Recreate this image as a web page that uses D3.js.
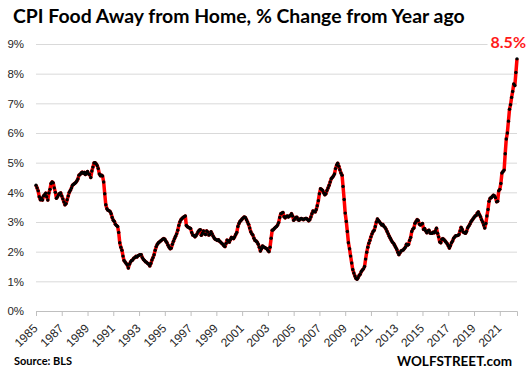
<!DOCTYPE html>
<html>
<head>
<meta charset="utf-8">
<script src="https://cdn.jsdelivr.net/npm/d3@7"></script>
<style>
  body { margin: 0; background: #fff; }
  svg { font-family: Lato, "Liberation Sans", sans-serif; display: block; }
</style>
</head>
<body>
<div id="chart"></div>
<script>
// monthly y/y % change, May 1985 .. Sep 2022
const firstMonth = new Date(1985, 4, 1)
const cpiFoodAway = [
  4.24, 4.15, 4.05, 3.85, 3.75, 3.80, 3.74, 3.88,                     // 1985 (May-Dec)
  3.92, 3.97, 3.85, 3.74, 3.98, 4.10, 4.30, 4.35, 4.32, 4.15, 4.00, 3.80, // 1986
  3.85, 3.92, 3.96, 3.98, 3.88, 3.78, 3.68, 3.58, 3.62, 3.75, 3.88, 4.00, // 1987
  4.07, 4.15, 4.24, 4.27, 4.30, 4.33, 4.38, 4.45, 4.58, 4.60, 4.65, 4.68, // 1988
  4.64, 4.67, 4.60, 4.66, 4.70, 4.62, 4.60, 4.50, 4.72, 4.85, 4.99, 5.00, // 1989
  4.96, 4.90, 4.80, 4.62, 4.56, 4.58, 4.55, 4.35, 3.95, 3.58, 3.45, 3.40, // 1990
  3.38, 3.35, 3.28, 3.15, 3.06, 3.02, 2.92, 2.88, 2.85, 2.65, 2.30, 2.15, // 1991
  2.05, 1.85, 1.70, 1.65, 1.60, 1.55, 1.45, 1.58, 1.65, 1.70, 1.72, 1.78, // 1992
  1.80, 1.84, 1.82, 1.86, 1.88, 1.90, 1.90, 1.80, 1.74, 1.70, 1.66, 1.64, // 1993
  1.60, 1.58, 1.52, 1.60, 1.72, 1.80, 1.90, 2.05, 2.17, 2.25, 2.30, 2.33, // 1994
  2.36, 2.39, 2.42, 2.44, 2.42, 2.35, 2.30, 2.22, 2.15, 2.10, 2.12, 2.25, // 1995
  2.35, 2.44, 2.52, 2.60, 2.72, 2.88, 3.00, 3.08, 3.12, 3.15, 3.18, 3.20, // 1996
  2.88, 2.84, 2.82, 2.80, 2.78, 2.65, 2.56, 2.55, 2.50, 2.54, 2.60, 2.67, // 1997
  2.72, 2.74, 2.55, 2.62, 2.70, 2.60, 2.58, 2.70, 2.66, 2.56, 2.58, 2.67, // 1998
  2.60, 2.52, 2.46, 2.42, 2.40, 2.38, 2.40, 2.35, 2.32, 2.28, 2.25, 2.20, // 1999
  2.17, 2.28, 2.39, 2.36, 2.32, 2.40, 2.48, 2.46, 2.44, 2.50, 2.58, 2.65, // 2000
  2.85, 2.95, 3.02, 3.06, 3.10, 3.14, 3.17, 3.15, 3.08, 3.00, 2.92, 2.80, // 2001
  2.67, 2.60, 2.56, 2.45, 2.38, 2.36, 2.32, 2.25, 2.15, 2.02, 2.10, 2.19, // 2002
  2.16, 2.14, 2.12, 2.10, 2.05, 2.00, 2.15, 2.45, 2.72, 2.74, 2.78, 2.82, // 2003
  2.85, 2.90, 2.98, 3.15, 3.28, 3.30, 3.32, 3.18, 3.14, 3.18, 3.20, 3.17, // 2004
  3.20, 3.22, 3.28, 3.20, 3.06, 3.10, 3.15, 3.16, 3.08, 3.06, 3.10, 3.12, // 2005
  3.10, 3.08, 3.10, 3.12, 3.12, 3.08, 3.04, 3.08, 3.17, 3.28, 3.37, 3.35, // 2006
  3.34, 3.42, 3.55, 3.72, 3.95, 4.12, 4.10, 4.06, 3.98, 3.92, 3.95, 4.06, // 2007
  4.15, 4.24, 4.35, 4.46, 4.50, 4.55, 4.62, 4.80, 4.92, 4.98, 4.88, 4.76, // 2008
  4.65, 4.58, 4.20, 3.76, 3.30, 3.02, 2.68, 2.30, 2.10, 1.85, 1.62, 1.40, // 2009
  1.28, 1.18, 1.10, 1.07, 1.12, 1.20, 1.24, 1.33, 1.38, 1.42, 1.50, 1.75, // 2010
  1.98, 2.15, 2.28, 2.38, 2.50, 2.60, 2.68, 2.72, 2.85, 3.00, 3.10, 3.05, // 2011
  3.00, 2.95, 2.90, 2.92, 2.86, 2.82, 2.76, 2.68, 2.60, 2.52, 2.45, 2.38, // 2012
  2.32, 2.28, 2.22, 2.15, 2.08, 1.98, 1.90, 1.96, 2.02, 2.04, 2.06, 2.10, // 2013
  2.15, 2.25, 2.22, 2.24, 2.38, 2.48, 2.68, 2.76, 2.80, 2.96, 3.02, 3.08, // 2014
  3.05, 2.93, 2.90, 2.92, 2.95, 2.75, 2.78, 2.70, 2.64, 2.70, 2.72, 2.63, // 2015
  2.62, 2.62, 2.66, 2.64, 2.70, 2.79, 2.62, 2.50, 2.33, 2.30, 2.42, 2.44, // 2016
  2.40, 2.36, 2.32, 2.27, 2.20, 2.12, 2.20, 2.30, 2.36, 2.45, 2.50, 2.54, // 2017
  2.54, 2.55, 2.58, 2.70, 2.82, 2.75, 2.66, 2.64, 2.62, 2.68, 2.80, 2.86, // 2018
  2.92, 3.00, 3.05, 3.10, 3.15, 3.20, 3.22, 3.30, 3.34, 3.25, 3.18, 3.08, // 2019
  3.00, 2.90, 2.80, 2.95, 3.20, 3.42, 3.70, 3.80, 3.82, 3.86, 3.90, 3.88, // 2020
  3.82, 3.68, 3.70, 4.05, 4.10, 4.30, 4.65, 4.70, 4.75, 5.30, 5.80, 6.00, // 2021
  6.40, 6.80, 6.95, 7.20, 7.40, 7.65, 7.60, 8.04, 8.50                    // 2022 (Jan-Sep)
]
const yTicks = [0, 1, 2, 3, 4, 5, 6, 7, 8, 9]
const xTickYears = [1985, 1987, 1989, 1991, 1993, 1995, 1997, 1999, 2001, 2003,
  2005, 2007, 2009, 2011, 2013, 2015, 2017, 2019, 2021]
const title = 'CPI Food Away from Home, % Change from Year ago'
const lastLabel = '8.5%'

const width = 529, height = 374
const margin = { top: 44, right: 12, bottom: 63, left: 36 }
const innerW = width - margin.left - margin.right
const innerH = height - margin.top - margin.bottom

const data = cpiFoodAway.map((v, i) => ({ date: d3.timeMonth.offset(firstMonth, i), value: v }))

const x = d3.scaleTime()
  .domain(d3.extent(data, d => d.date))
  .range([0, innerW])
const y = d3.scaleLinear()
  .domain([0, 9])
  .range([innerH, 0])

const svg = d3.select('#chart').append('svg')
  .attr('width', width)
  .attr('height', height)

// title
svg.append('text')
  .attr('x', 13)
  .attr('y', 23)
  .attr('font-size', 20)
  .attr('font-weight', 'bold')
  .attr('fill', '#000')
  .text(title)
  .each(function () {
    const w = this.getComputedTextLength()
    d3.select(this).attr('font-size', 20 * 452 / w)
  })

const g = svg.append('g')
  .attr('transform', `translate(${margin.left},${margin.top})`)

// y grid + labels
const yAxis = g.append('g')
  .call(d3.axisLeft(y).tickValues(yTicks).tickFormat(d => d + '%')
    .tickSize(-innerW).tickPadding(12))
yAxis.select('.domain').remove()
yAxis.selectAll('line').attr('stroke', '#d9d9d9')
yAxis.selectAll('text').attr('font-size', 11.5).attr('fill', '#262626')

// x axis
const xAxis = g.append('g')
  .attr('transform', `translate(0,${innerH})`)
  .call(d3.axisBottom(x)
    .tickValues(xTickYears.map(yr => new Date(yr, 4, 1)))
    .tickFormat(d3.timeFormat('%Y'))
    .tickSizeOuter(0).tickSize(5))
xAxis.select('.domain').attr('stroke', '#bfbfbf')
xAxis.selectAll('line').attr('stroke', '#bfbfbf')
xAxis.selectAll('text')
  .attr('font-size', 12)
  .attr('fill', '#262626')
  .attr('text-anchor', 'end')
  .attr('x', 0).attr('y', 0).attr('dy', '0.35em')
  .attr('transform', 'translate(-1,15) rotate(-45)')

// line + dots
const line = d3.line()
  .x(d => x(d.date))
  .y(d => y(d.value))

g.append('path')
  .datum(data)
  .attr('fill', 'none')
  .attr('stroke', '#ff0000')
  .attr('stroke-width', 3.5)
  .attr('stroke-linejoin', 'round')
  .attr('d', line)

g.append('g')
  .selectAll('circle')
  .data(data)
  .join('circle')
  .attr('cx', d => x(d.date))
  .attr('cy', d => y(d.value))
  .attr('r', 1.7)
  .attr('fill', '#000')

// label for the last value
const last = data[data.length - 1]
const lbl = g.append('g')
const lblText = lbl.append('text')
  .attr('x', x(last.date) + 9)
  .attr('y', y(9) + 4)
  .attr('text-anchor', 'end')
  .attr('font-size', 16)
  .attr('font-weight', 'bold')
  .attr('fill', '#ff1a1a')
  .text(lastLabel)
const bb = lblText.node().getBBox()
lbl.insert('rect', 'text')
  .attr('x', bb.x - 3).attr('y', bb.y)
  .attr('width', bb.width + 6).attr('height', bb.height)
  .attr('fill', '#fff')

// footer
svg.append('text')
  .attr('x', 14)
  .attr('y', 365)
  .attr('font-size', 11)
  .attr('font-weight', 'bold')
  .text('Source: BLS')
svg.append('text')
  .attr('x', 512)
  .attr('y', 366)
  .attr('text-anchor', 'end')
  .attr('font-size', 13.5)
  .attr('font-weight', 'bold')
  .text('WOLFSTREET.com')
</script>
</body>
</html>
